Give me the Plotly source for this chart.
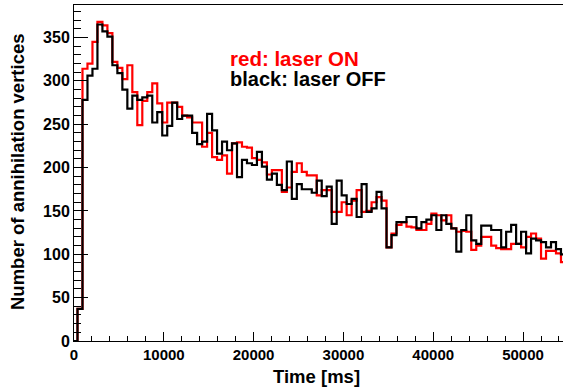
import plotly.graph_objects as go

# Histogram binning (ms)
bin_width = 555.0
first_edge = -165.0

# Counts per bin
laser_on = [0, 37, 314, 320, 345, 368, 364, 355, 322, 315,
            302, 318, 287, 249, 277, 287, 297, 274, 252, 275,
            275, 270, 260, 258, 252, 252, 224, 240, 212, 209,
            214, 193, 228, 229, 224, 223, 211, 209, 206, 192,
            197, 197, 172, 177, 195, 205, 195, 191, 191, 168,
            174, 174, 149, 149, 160, 145, 162, 174, 149, 150,
            160, 166, 162, 108, 124, 134, 137, 132, 131, 128,
            128, 135, 147, 145, 139, 145, 130, 126, 127, 126,
            105, 110, 120, 120, 110, 107, 106, 106, 112, 112,
            108, 120, 124, 118, 95, 104, 104, 101, 91, 95]

laser_off = [0, 37, 278, 306, 314, 365, 357, 351, 318, 309,
             290, 268, 283, 278, 281, 283, 252, 264, 237, 248,
             275, 256, 260, 260, 240, 227, 230, 262, 243, 216,
             230, 220, 228, 189, 209, 205, 203, 218, 201, 186,
             193, 180, 174, 207, 164, 181, 175, 175, 171, 185,
             167, 178, 135, 185, 168, 158, 164, 143, 181, 149,
             153, 172, 153, 108, 122, 137, 137, 143, 143, 130,
             137, 140, 145, 128, 145, 135, 130, 103, 128, 145,
             116, 112, 133, 133, 128, 128, 108, 126, 134, 112,
             126, 101, 118, 116, 114, 108, 114, 106, 100, 90]

x_ticks = [0, 10000, 20000, 30000, 40000, 50000]
y_ticks = [0, 50, 100, 150, 200, 250, 300, 350]


def step_xy(vals):
    n = len(vals)
    edges = [first_edge + bin_width * i for i in range(n + 1)]
    xs = [edges[0]] + edges[:n] + [edges[n], edges[n]]
    ys = [0] + list(vals) + [vals[-1], 0]
    return xs, ys


fig = go.Figure()
xr, yr = step_xy(laser_on)
fig.add_trace(go.Scatter(x=xr, y=yr, mode="lines", line_shape="hv",
                         line=dict(color="#ff0000", width=2.2), name="laser ON",
                         showlegend=False))
xb, yb = step_xy(laser_off)
fig.add_trace(go.Scatter(x=xb, y=yb, mode="lines", line_shape="hv",
                         line=dict(color="#000000", width=2.2), name="laser OFF",
                         showlegend=False))

font_family = "Liberation Sans, Arial, sans-serif"

fig.add_annotation(x=17150, y=326, xref="x", yref="y", text="red: laser ON",
                   showarrow=False, xanchor="left", yanchor="middle",
                   font=dict(family=font_family, size=20.5, color="#ff0000", weight="bold"))
fig.add_annotation(x=17150, y=302, xref="x", yref="y", text="black: laser OFF",
                   showarrow=False, xanchor="left", yanchor="middle",
                   font=dict(family=font_family, size=20, color="#000000", weight="bold"))

# Axis titles
fig.add_annotation(x=-0.1145, y=0.503, xref="paper", yref="paper",
                   text="Number of annihilation vertices", textangle=-90,
                   showarrow=False, xanchor="center", yanchor="middle",
                   font=dict(family=font_family, size=18.5, color="black", weight="bold"))
fig.add_annotation(x=0.495, y=-0.107, xref="paper", yref="paper",
                   text="Time [ms]", showarrow=False, xanchor="center", yanchor="middle",
                   font=dict(family=font_family, size=18.5, color="black", weight="bold"))

fig.update_layout(
    width=563, height=389,
    margin=dict(l=74, r=0, t=5, b=48, autoexpand=False),
    paper_bgcolor="white", plot_bgcolor="white",
    font=dict(family=font_family, color="black"),
)
fig.update_xaxes(
    range=[0, 54450], tickvals=x_ticks, ticktext=[str(v) for v in x_ticks],
    ticks="inside", ticklen=9, tickwidth=1, tickcolor="black",
    minor=dict(ticks="inside", ticklen=5, dtick=2000, tick0=0, tickcolor="black"),
    showline=True, linecolor="black", linewidth=1, mirror=True,
    showgrid=False, zeroline=False, automargin=False,
    tickfont=dict(family=font_family, size=15, weight="bold"),
)
fig.update_yaxes(
    range=[0, 387.5], tickvals=y_ticks, ticktext=[str(v) for v in y_ticks],
    ticks="inside", ticklen=14, tickwidth=1, tickcolor="black",
    minor=dict(ticks="inside", ticklen=7, dtick=10, tick0=0, tickcolor="black"),
    showline=True, linecolor="black", linewidth=1, mirror=True,
    showgrid=False, zeroline=False, automargin=False,
    tickfont=dict(family=font_family, size=16, weight="bold"),
)

fig.write_html(
    "out.html",
    config={"displayModeBar": False},
    post_script="document.body.style.margin='0';document.body.style.overflow='hidden';",
)
